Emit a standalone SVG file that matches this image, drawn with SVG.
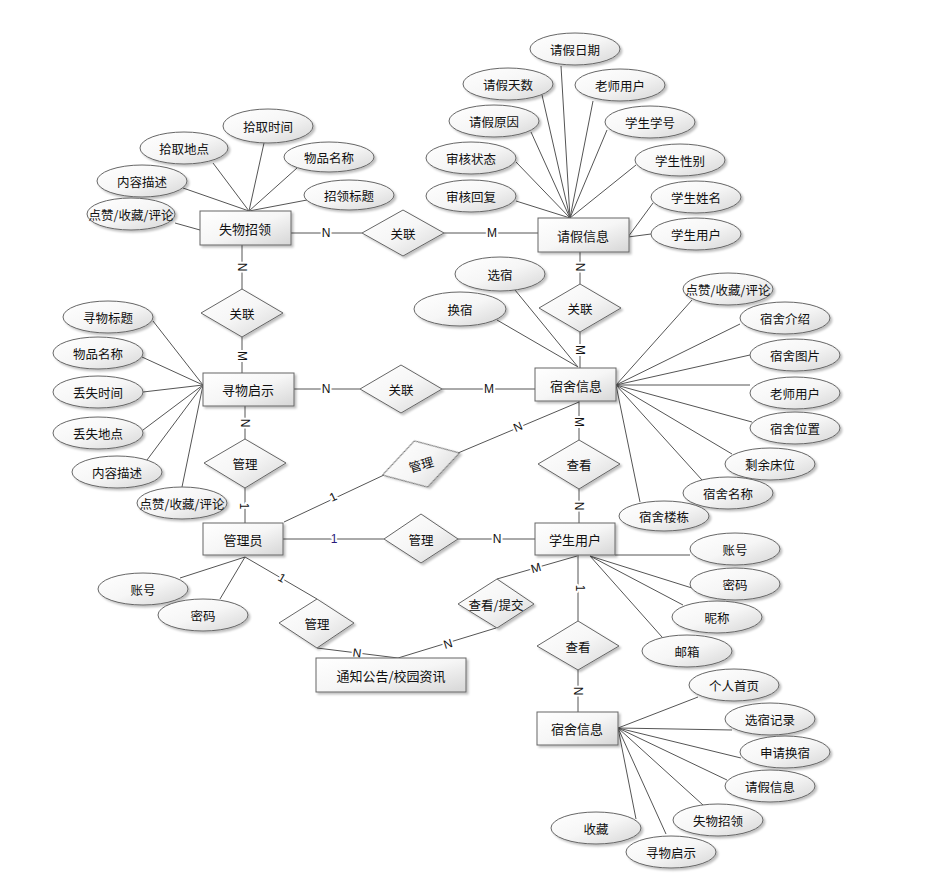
<svg xmlns="http://www.w3.org/2000/svg" width="941" height="881" viewBox="0 0 941 881">
<style>
.bg{fill:#ffffff}
.ln{stroke:#555;stroke-width:1;fill:none}
.ent rect{fill:url(#g);stroke:#666;stroke-width:1;filter:url(#sh)}
.attr ellipse{fill:url(#g);stroke:#666;stroke-width:1;filter:url(#sh)}
.rel polygon{fill:url(#g);stroke:#666;stroke-width:1;filter:url(#sh)}
text{font-family:"Noto Sans CJK SC","Liberation Sans",sans-serif;fill:#111;text-anchor:middle;dominant-baseline:central}
.ent text{font-size:13px}
.attr text{font-size:12.5px}
.rel text{font-size:12.5px}
.card{font-family:"Liberation Sans",Arial,sans-serif;font-size:12px;stroke:#fff;stroke-width:4;paint-order:stroke;stroke-linejoin:round}
</style>
<defs>
<linearGradient id="g" x1="0" y1="0" x2="1" y2="1">
<stop offset="0" stop-color="#ffffff"/>
<stop offset="0.5" stop-color="#f6f6f6"/>
<stop offset="1" stop-color="#d6d6d6"/>
</linearGradient>
<filter id="sh" x="-20%" y="-20%" width="150%" height="160%">
<feDropShadow dx="2" dy="2" stdDeviation="1.2" flood-color="#000" flood-opacity="0.25"/>
</filter>
</defs>
<rect class="bg" x="0" y="0" width="941" height="881"/>
<g id="connectors">
<line class="ln" x1="264" y1="143" x2="249" y2="211"/>
<line class="ln" x1="213" y1="163" x2="249" y2="211"/>
<line class="ln" x1="297" y1="168" x2="249" y2="211"/>
<line class="ln" x1="183" y1="188" x2="249" y2="211"/>
<line class="ln" x1="307" y1="200" x2="249" y2="211"/>
<line class="ln" x1="175" y1="223" x2="200" y2="230"/>
<line class="ln" x1="561" y1="66" x2="570" y2="218"/>
<line class="ln" x1="542" y1="95" x2="570" y2="218"/>
<line class="ln" x1="593" y1="101" x2="570" y2="218"/>
<line class="ln" x1="531" y1="132" x2="570" y2="218"/>
<line class="ln" x1="607" y1="130" x2="570" y2="218"/>
<line class="ln" x1="516" y1="162" x2="570" y2="218"/>
<line class="ln" x1="636" y1="165" x2="570" y2="218"/>
<line class="ln" x1="516" y1="201" x2="570" y2="218"/>
<line class="ln" x1="653" y1="203" x2="628" y2="237"/>
<line class="ln" x1="651" y1="234" x2="628" y2="237"/>
<line class="ln" x1="153" y1="321" x2="203" y2="385"/>
<line class="ln" x1="142" y1="357" x2="203" y2="385"/>
<line class="ln" x1="143" y1="392" x2="203" y2="385"/>
<line class="ln" x1="143" y1="430" x2="203" y2="385"/>
<line class="ln" x1="147" y1="460" x2="203" y2="385"/>
<line class="ln" x1="182" y1="487" x2="203" y2="385"/>
<line class="ln" x1="515" y1="290" x2="578" y2="367"/>
<line class="ln" x1="497" y1="320" x2="578" y2="367"/>
<line class="ln" x1="692" y1="300" x2="616" y2="385"/>
<line class="ln" x1="740" y1="324" x2="616" y2="385"/>
<line class="ln" x1="750" y1="355" x2="616" y2="385"/>
<line class="ln" x1="750" y1="385" x2="616" y2="385"/>
<line class="ln" x1="752" y1="422" x2="616" y2="385"/>
<line class="ln" x1="732" y1="454" x2="616" y2="385"/>
<line class="ln" x1="702" y1="480" x2="616" y2="385"/>
<line class="ln" x1="640" y1="502" x2="616" y2="385"/>
<line class="ln" x1="690" y1="555" x2="615" y2="555"/>
<line class="ln" x1="692" y1="588" x2="590" y2="556"/>
<line class="ln" x1="683" y1="605" x2="590" y2="556"/>
<line class="ln" x1="662" y1="637" x2="590" y2="556"/>
<line class="ln" x1="698" y1="697" x2="618" y2="728"/>
<line class="ln" x1="732" y1="730" x2="618" y2="728"/>
<line class="ln" x1="741" y1="758" x2="618" y2="728"/>
<line class="ln" x1="727" y1="780" x2="618" y2="728"/>
<line class="ln" x1="703" y1="805" x2="618" y2="728"/>
<line class="ln" x1="666" y1="834" x2="618" y2="728"/>
<line class="ln" x1="636" y1="819" x2="618" y2="728"/>
<line class="ln" x1="180" y1="578" x2="245" y2="557"/>
<line class="ln" x1="220" y1="599" x2="245" y2="557"/>
<line class="ln" x1="291" y1="233" x2="362" y2="233"/>
<line class="ln" x1="444" y1="233" x2="538" y2="233"/>
<line class="ln" x1="242" y1="245" x2="242" y2="289"/>
<line class="ln" x1="242" y1="337" x2="242" y2="373"/>
<line class="ln" x1="294" y1="389" x2="360" y2="389"/>
<line class="ln" x1="442" y1="389" x2="535" y2="389"/>
<line class="ln" x1="580" y1="252" x2="580" y2="284"/>
<line class="ln" x1="580" y1="332" x2="580" y2="368"/>
<line class="ln" x1="245" y1="406" x2="245" y2="439"/>
<line class="ln" x1="245" y1="488" x2="245" y2="523"/>
<line class="ln" x1="579" y1="401" x2="579" y2="440"/>
<line class="ln" x1="579" y1="489" x2="579" y2="523"/>
<line class="ln" x1="284" y1="522" x2="384" y2="475"/>
<line class="ln" x1="458" y1="453" x2="579" y2="402"/>
<line class="ln" x1="283" y1="539" x2="384" y2="539"/>
<line class="ln" x1="458" y1="539" x2="535" y2="539"/>
<line class="ln" x1="578" y1="555" x2="578" y2="621"/>
<line class="ln" x1="578" y1="670" x2="578" y2="712"/>
<line class="ln" x1="245" y1="557" x2="317" y2="599"/>
<line class="ln" x1="317" y1="648" x2="398" y2="658"/>
<line class="ln" x1="398" y1="658" x2="496" y2="628"/>
<line class="ln" x1="497" y1="579" x2="577" y2="556"/>
<text class="card" x="326" y="233">N</text>
<text class="card" x="492" y="233">M</text>
<text class="card" transform="translate(242,267) rotate(90)">N</text>
<text class="card" transform="translate(242,356) rotate(90)">M</text>
<text class="card" x="326" y="389">N</text>
<text class="card" x="489" y="389">M</text>
<text class="card" transform="translate(580,267) rotate(90)">N</text>
<text class="card" transform="translate(580,350) rotate(90)">M</text>
<text class="card" transform="translate(245,423) rotate(90)">N</text>
<text class="card" transform="translate(244,506) rotate(90)">1</text>
<text class="card" transform="translate(579,422) rotate(90)">M</text>
<text class="card" transform="translate(579,506) rotate(90)">N</text>
<text class="card" transform="translate(333,497) rotate(-25)">1</text>
<text class="card" transform="translate(518,427) rotate(-23)">N</text>
<text class="card" x="334" y="539" style="fill:#2a1a7a">1</text>
<text class="card" x="497" y="539">N</text>
<text class="card" transform="translate(580,588) rotate(90)">1</text>
<text class="card" transform="translate(578,691) rotate(90)">N</text>
<text class="card" transform="translate(282,578) rotate(30)">1</text>
<text class="card" transform="translate(357,653) rotate(7)">N</text>
<text class="card" transform="translate(448,644) rotate(-17)">N</text>
<text class="card" transform="translate(536,568) rotate(-16)">M</text>
</g>
<g id="r1" class="rel"><polygon points="362,233 403,210 444,233 403,256"/><text x="403" y="233">关联</text></g>
<g id="r2" class="rel"><polygon points="201,313 242,289 283,313 242,337"/><text x="242" y="313">关联</text></g>
<g id="r3" class="rel"><polygon points="360,389 401,365 442,389 401,413"/><text x="401" y="389">关联</text></g>
<g id="r4" class="rel"><polygon points="539,308 580,284 621,308 580,332"/><text x="580" y="308">关联</text></g>
<g id="r5" class="rel"><polygon points="204,463 245,439 286,463 245,488"/><text x="245" y="463">管理</text></g>
<g id="r6" class="rel" transform="rotate(-16 421 464)"><polygon points="381,464 421,440 461,464 421,488"/><text x="421" y="464">管理</text></g>
<g id="r7" class="rel"><polygon points="384,539 421,514 458,539 421,563"/><text x="421" y="539">管理</text></g>
<g id="r8" class="rel"><polygon points="279,623 317,599 354,623 317,648"/><text x="317" y="623">管理</text></g>
<g id="r9" class="rel"><polygon points="458,604 497,579 534,604 497,628"/><text x="496" y="604">查看/提交</text></g>
<g id="r10" class="rel"><polygon points="538,464 579,440 620,464 579,489"/><text x="579" y="464">查看</text></g>
<g id="r11" class="rel"><polygon points="537,646 578,621 619,646 578,670"/><text x="578" y="646">查看</text></g>
<g id="e1" class="ent"><rect x="200" y="211" width="91" height="34"/><text x="245" y="228">失物招领</text></g>
<g id="e2" class="ent"><rect x="538" y="218" width="91" height="34"/><text x="583" y="235">请假信息</text></g>
<g id="e3" class="ent"><rect x="203" y="373" width="91" height="33"/><text x="248" y="389">寻物启示</text></g>
<g id="e4" class="ent"><rect x="535" y="368" width="81" height="33"/><text x="576" y="385">宿舍信息</text></g>
<g id="e5" class="ent"><rect x="203" y="523" width="80" height="32"/><text x="243" y="539">管理员</text></g>
<g id="e6" class="ent"><rect x="535" y="523" width="80" height="32"/><text x="575" y="539">学生用户</text></g>
<g id="e7" class="ent"><rect x="316" y="658" width="150" height="34"/><text x="391" y="675">通知公告/校园资讯</text></g>
<g id="e8" class="ent"><rect x="537" y="712" width="81" height="33"/><text x="577" y="728">宿舍信息</text></g>
<g id="a1" class="attr"><ellipse cx="268" cy="126" rx="45" ry="17"/><text x="268" y="126">拾取时间</text></g>
<g id="a2" class="attr"><ellipse cx="184" cy="148" rx="44" ry="16"/><text x="184" y="148">拾取地点</text></g>
<g id="a3" class="attr"><ellipse cx="329" cy="157" rx="45" ry="15"/><text x="329" y="157">物品名称</text></g>
<g id="a4" class="attr"><ellipse cx="142" cy="181" rx="45" ry="16"/><text x="142" y="181">内容描述</text></g>
<g id="a5" class="attr"><ellipse cx="349" cy="195" rx="45" ry="15"/><text x="349" y="195">招领标题</text></g>
<g id="a6" class="attr"><ellipse cx="131" cy="214" rx="44" ry="16"/><text x="131" y="214">点赞/收藏/评论</text></g>
<g id="a7" class="attr"><ellipse cx="575" cy="49" rx="45" ry="16"/><text x="575" y="49">请假日期</text></g>
<g id="a8" class="attr"><ellipse cx="508" cy="84" rx="45" ry="16"/><text x="508" y="84">请假天数</text></g>
<g id="a9" class="attr"><ellipse cx="620" cy="85" rx="45" ry="16"/><text x="620" y="85">老师用户</text></g>
<g id="a10" class="attr"><ellipse cx="494" cy="121" rx="45" ry="16"/><text x="494" y="121">请假原因</text></g>
<g id="a11" class="attr"><ellipse cx="650" cy="122" rx="45" ry="16"/><text x="650" y="122">学生学号</text></g>
<g id="a12" class="attr"><ellipse cx="471" cy="158" rx="45" ry="16"/><text x="471" y="158">审核状态</text></g>
<g id="a13" class="attr"><ellipse cx="680" cy="160" rx="45" ry="16"/><text x="680" y="160">学生性别</text></g>
<g id="a14" class="attr"><ellipse cx="471" cy="196" rx="45" ry="16"/><text x="471" y="196">审核回复</text></g>
<g id="a15" class="attr"><ellipse cx="696" cy="197" rx="45" ry="16"/><text x="696" y="197">学生姓名</text></g>
<g id="a16" class="attr"><ellipse cx="696" cy="234" rx="45" ry="16"/><text x="696" y="234">学生用户</text></g>
<g id="a17" class="attr"><ellipse cx="108" cy="317" rx="45" ry="16"/><text x="108" y="317">寻物标题</text></g>
<g id="a18" class="attr"><ellipse cx="98" cy="353" rx="45" ry="16"/><text x="98" y="353">物品名称</text></g>
<g id="a19" class="attr"><ellipse cx="98" cy="392" rx="45" ry="16"/><text x="98" y="392">丢失时间</text></g>
<g id="a20" class="attr"><ellipse cx="98" cy="433" rx="45" ry="16"/><text x="98" y="433">丢失地点</text></g>
<g id="a21" class="attr"><ellipse cx="117" cy="472" rx="45" ry="16"/><text x="117" y="472">内容描述</text></g>
<g id="a22" class="attr"><ellipse cx="182" cy="503" rx="45" ry="16"/><text x="182" y="503">点赞/收藏/评论</text></g>
<g id="a23" class="attr"><ellipse cx="500" cy="274" rx="45" ry="17"/><text x="500" y="274">选宿</text></g>
<g id="a24" class="attr"><ellipse cx="460" cy="309" rx="46" ry="17"/><text x="460" y="309">换宿</text></g>
<g id="a25" class="attr"><ellipse cx="728" cy="289" rx="45" ry="16"/><text x="728" y="289">点赞/收藏/评论</text></g>
<g id="a26" class="attr"><ellipse cx="785" cy="318" rx="45" ry="16"/><text x="785" y="318">宿舍介绍</text></g>
<g id="a27" class="attr"><ellipse cx="795" cy="355" rx="45" ry="16"/><text x="795" y="355">宿舍图片</text></g>
<g id="a28" class="attr"><ellipse cx="795" cy="393" rx="45" ry="16"/><text x="795" y="393">老师用户</text></g>
<g id="a29" class="attr"><ellipse cx="795" cy="428" rx="45" ry="16"/><text x="795" y="428">宿舍位置</text></g>
<g id="a30" class="attr"><ellipse cx="770" cy="464" rx="45" ry="16"/><text x="770" y="464">剩余床位</text></g>
<g id="a31" class="attr"><ellipse cx="728" cy="493" rx="45" ry="16"/><text x="728" y="493">宿舍名称</text></g>
<g id="a32" class="attr"><ellipse cx="664" cy="516" rx="45" ry="15"/><text x="664" y="516">宿舍楼栋</text></g>
<g id="a33" class="attr"><ellipse cx="735" cy="549" rx="45" ry="16"/><text x="735" y="549">账号</text></g>
<g id="a34" class="attr"><ellipse cx="735" cy="584" rx="45" ry="16"/><text x="735" y="584">密码</text></g>
<g id="a35" class="attr"><ellipse cx="717" cy="617" rx="45" ry="16"/><text x="717" y="617">昵称</text></g>
<g id="a36" class="attr"><ellipse cx="687" cy="651" rx="45" ry="16"/><text x="687" y="651">邮箱</text></g>
<g id="a37" class="attr"><ellipse cx="143" cy="589" rx="45" ry="16"/><text x="143" y="589">账号</text></g>
<g id="a38" class="attr"><ellipse cx="203" cy="615" rx="45" ry="16"/><text x="203" y="615">密码</text></g>
<g id="a39" class="attr"><ellipse cx="734" cy="685" rx="45" ry="16"/><text x="734" y="685">个人首页</text></g>
<g id="a40" class="attr"><ellipse cx="770" cy="719" rx="45" ry="16"/><text x="770" y="719">选宿记录</text></g>
<g id="a41" class="attr"><ellipse cx="785" cy="752" rx="45" ry="16"/><text x="785" y="752">申请换宿</text></g>
<g id="a42" class="attr"><ellipse cx="770" cy="786" rx="45" ry="16"/><text x="770" y="786">请假信息</text></g>
<g id="a43" class="attr"><ellipse cx="718" cy="820" rx="45" ry="16"/><text x="718" y="820">失物招领</text></g>
<g id="a44" class="attr"><ellipse cx="596" cy="828" rx="45" ry="16"/><text x="596" y="828">收藏</text></g>
<g id="a45" class="attr"><ellipse cx="671" cy="852" rx="45" ry="16"/><text x="671" y="852">寻物启示</text></g>
</svg>
